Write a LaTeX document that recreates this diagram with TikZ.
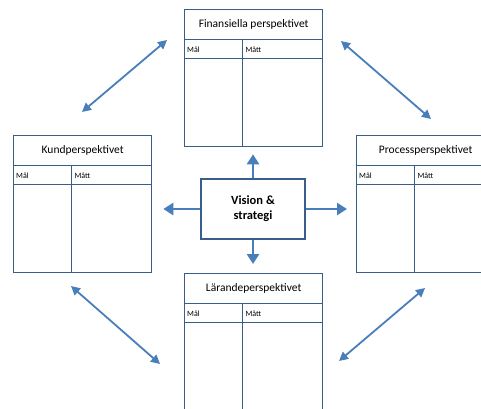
\documentclass[tikz,border=0pt]{standalone}
\usepackage{fontspec}
\setmainfont{Carlito}
\usepackage{xcolor}
\usepackage{tikz}
\usetikzlibrary{arrows.meta, positioning, calc}
\definecolor{rambla}{RGB}{58,94,140}
\definecolor{pilbla}{RGB}{74,126,187}

% en perspektivruta: namn, ovre vanstra hornet, rubrik
\newcommand{\perspektiv}[3]{%
  \node[ruta, anchor=north west] (#1) at (#2) {};
  \node[rubrik, anchor=north west] (#1-rub) at (#1.north west) {#3};
  \node[kolumn, text width=52pt, anchor=north west] (#1-mal) at (#1-rub.south west) {Mål};
  \node[kolumn, text width=72pt, anchor=north west] (#1-matt) at (#1-mal.north east) {Mått};
  \draw[linje] (#1-mal.south west) -- (#1-mal.south west -| #1.east);
  \draw[linje] (#1-mal.north east) -- (#1-mal.north east |- #1.south);
}

\begin{document}
\begin{tikzpicture}[x=1pt, y=-1pt,
      linje/.style={draw=rambla, line width=1.3pt},
      ruta/.style={linje, rectangle, inner sep=0pt, minimum width=138pt, minimum height=137pt},
      rubrik/.style={linje, rectangle, inner sep=0pt, minimum width=138pt, minimum height=30pt,
                     font=\fontsize{11.5}{13}\selectfont},
      kolumn/.style={rectangle, inner xsep=3pt, inner ysep=0pt, minimum height=18pt,
                     align=left, font=\fontsize{8}{9}\selectfont},
      mitt/.style={linje, rectangle, minimum width=104pt, minimum height=60pt, align=center,
                   font=\fontsize{12.5}{15}\selectfont\bfseries},
      tjockpil/.style={draw=pilbla, line width=2.8pt, -{Triangle[length=10pt, width=12pt]}},
      dubbelpil/.style={draw=pilbla, line width=1.8pt,
                        {Triangle[length=9pt, width=9pt]}-{Triangle[length=9pt, width=9pt]}}]

    \useasboundingbox (0,0) rectangle (481,408);

    \perspektiv{fin}{184,9}{Finansiella perspektivet}
    \perspektiv{kund}{13,135}{Kundperspektivet}
    \perspektiv{proc}{356,135}{Processperspektivet}
    \perspektiv{lar}{184,273}{Lärandeperspektivet}

    \node[mitt] (vision) at (253,209) {Vision \&\\strategi};

    \draw[tjockpil, shorten >=7pt] (vision.north) -- (vision.north |- fin.south);
    \draw[tjockpil, shorten >=9pt] (vision.south) -- (vision.south |- lar.north);
    \draw[tjockpil, shorten >=11pt] (vision.west) -- (vision.west -| kund.east);
    \draw[tjockpil, shorten >=9pt] (vision.east) -- (vision.east -| proc.west);

    % pilarna mellan perspektiven
    \coordinate (kf1) at (82,112);
    \coordinate (kf2) at (167,40);
    \coordinate (fp1) at (341,41);
    \coordinate (fp2) at (431,119);
    \coordinate (kl1) at (71,286);
    \coordinate (kl2) at (160,364);
    \coordinate (lp1) at (339,361);
    \coordinate (lp2) at (425,288);

    \draw[dubbelpil] (kf1) -- (kf2);
    \draw[dubbelpil] (fp1) -- (fp2);
    \draw[dubbelpil] (kl1) -- (kl2);
    \draw[dubbelpil] (lp1) -- (lp2);
  \end{tikzpicture}
\end{document}
